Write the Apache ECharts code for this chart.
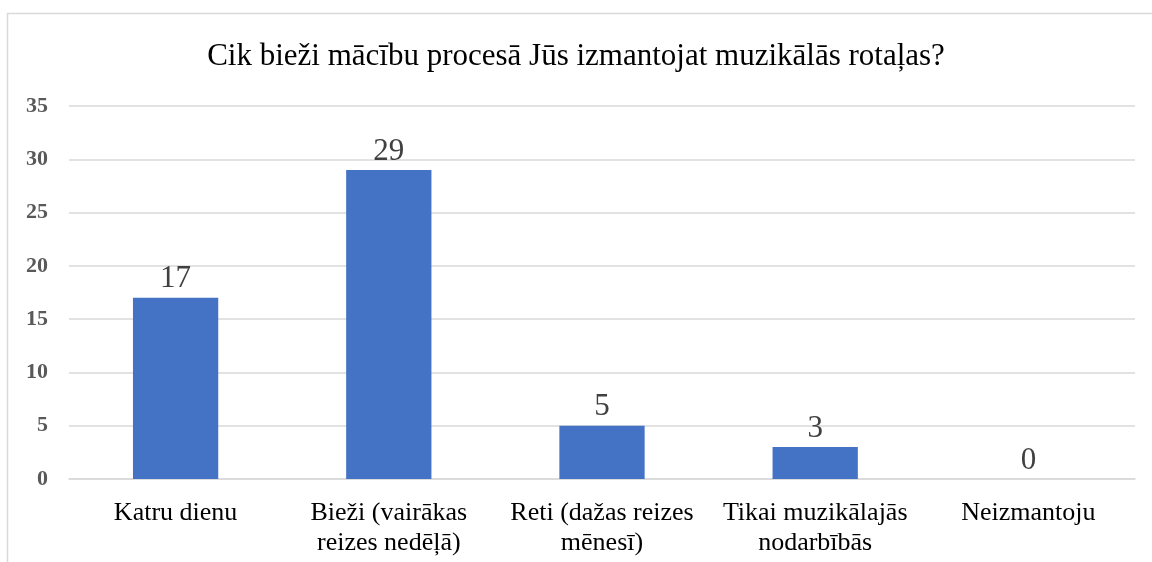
<!DOCTYPE html>
<html>
<head>
<meta charset="utf-8">
<script src="https://cdn.jsdelivr.net/npm/echarts@6/dist/echarts.min.js"></script>
<style>
  html, body { margin: 0; padding: 0; background: #fff; }
  #chart { width: 1152px; height: 562px; }
</style>
</head>
<body>
<div id="chart"></div>
<script>
const titleText = 'Cik bieži mācību procesā Jūs izmantojat muzikālās rotaļas?'
const categories = [
  'Katru dienu',
  'Bieži (vairākas\nreizes nedēļā)',
  'Reti (dažas reizes\nmēnesī)',
  'Tikai muzikālajās\nnodarbībās',
  'Neizmantoju'
]
const answers = [17, 29, 5, 3, 0]

const serif = '"Liberation Serif", "Times New Roman", serif'
const myChart = echarts.init(document.getElementById('chart'))

const option = {
  animation: false,
  title: {
    text: titleText,
    left: 'center',
    top: 36,
    textStyle: { fontFamily: serif, fontSize: 31, fontWeight: 'normal', color: '#000' }
  },
  // rámeček kolem grafu
  graphic: [{
    type: 'rect',
    shape: { x: 7.5, y: 13.5, width: 1200, height: 600 },
    style: { fill: 'none', stroke: '#d9d9d9', lineWidth: 1.5 },
    silent: true
  }],
  grid: { left: 69, right: 17, top: 106, bottom: 83 },
  xAxis: {
    type: 'category',
    data: categories,
    axisTick: { show: false },
    axisLine: { lineStyle: { color: '#d9d9d9', width: 1.5 } },
    axisLabel: {
      fontFamily: serif, fontSize: 26, color: '#000',
      lineHeight: 30, margin: 19, interval: 0
    }
  },
  yAxis: {
    type: 'value',
    min: 0,
    max: 35,
    interval: 5,
    axisLine: { show: false },
    axisTick: { show: false },
    splitLine: { lineStyle: { color: '#d9d9d9', width: 1.5 } },
    axisLabel: {
      fontFamily: serif, fontSize: 22, fontWeight: 'bold', color: '#595959', margin: 21
    }
  },
  series: [{
    type: 'bar',
    data: answers,
    barCategoryGap: '60%',
    itemStyle: { color: '#4472c4' },
    label: {
      show: true,
      position: 'top',
      distance: 3,
      fontFamily: serif,
      fontSize: 31,
      color: '#404040'
    }
  }]
}
myChart.setOption(option)
</script>
</body>
</html>
